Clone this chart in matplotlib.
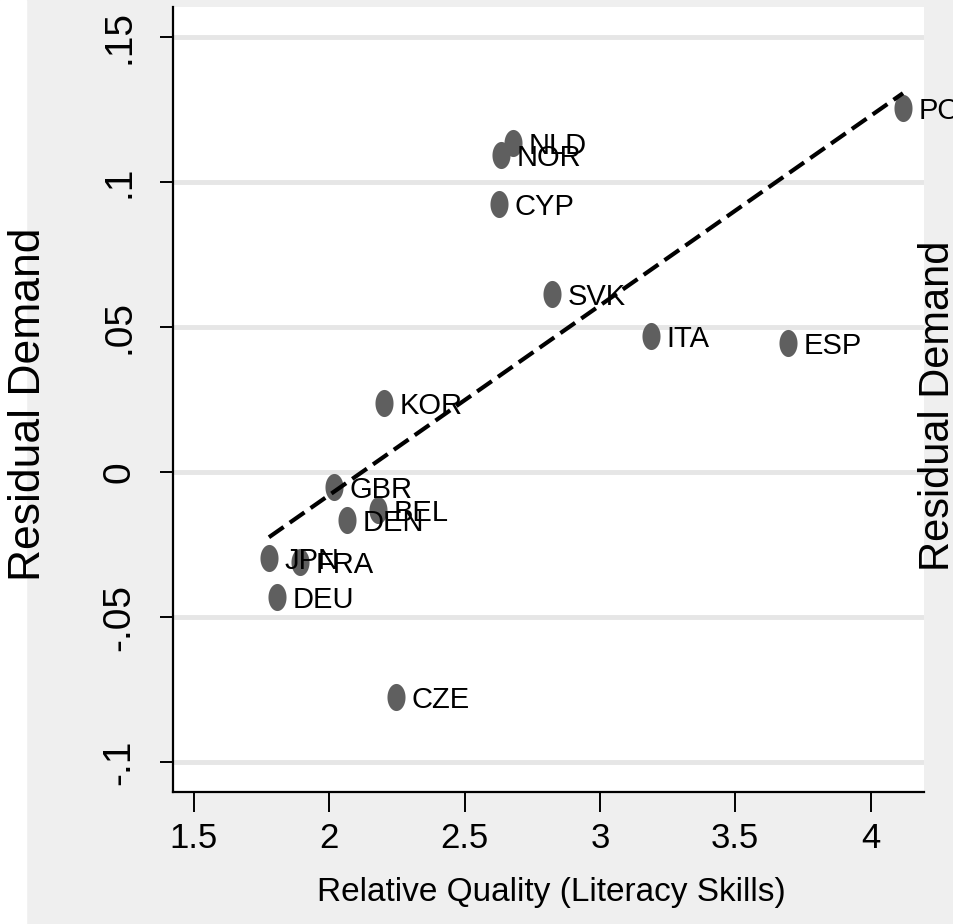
import numpy as np
import matplotlib
matplotlib.use('Agg')
import matplotlib.pyplot as plt
from matplotlib.path import Path
from matplotlib.patches import Rectangle

plt.rcParams['font.family'] = ['Liberation Sans', 'DejaVu Sans']

# data
countries = ['POL', 'NLD', 'NOR', 'CYP', 'SVK', 'ITA', 'ESP', 'KOR',
             'GBR', 'BEL', 'DEN', 'JPN', 'FRA', 'DEU', 'CZE']
quality = [4.120, 2.679, 2.635, 2.627, 2.823, 3.189, 3.695, 2.202,
           2.017, 2.180, 2.065, 1.777, 1.892, 1.807, 2.246]
demand = [0.1255, 0.1134, 0.1093, 0.0924, 0.0614, 0.0469, 0.0445, 0.0238,
          -0.0052, -0.0131, -0.0166, -0.0297, -0.0310, -0.0431, -0.0776]

xticks = [1.5, 2, 2.5, 3, 3.5, 4]
xticklabels = ['1.5', '2', '2.5', '3', '3.5', '4']
yticks = [-0.1, -0.05, 0, 0.05, 0.1, 0.15]
yticklabels = ['-.1', '-.05', '0', '.05', '.1', '.15']

x = np.array(quality)
y = np.array(demand)

fig = plt.figure(figsize=(9.54, 9.24), dpi=100, facecolor='#efefef')
fig.patches.append(Rectangle((0, 0), 26 / 954, 1, transform=fig.transFigure,
                             color='white', zorder=0))
ax = fig.add_axes([173 / 954, 132 / 924, 751 / 954, 785 / 924])
ax.set_facecolor('white')

# stretched-looking dot (taller than wide)
t = np.linspace(0, 2 * np.pi, 60)
ellipse = Path(np.column_stack([np.cos(t), 1.5 * np.sin(t)]), closed=True)

ax.plot(x, y, linestyle='none', marker=ellipse, markersize=19.5,
        color='#5f5f5f', markeredgewidth=0, zorder=3)

for name, xi, yi in zip(countries, x, y):
    ax.annotate(name, (xi, yi), xytext=(11, -2), textcoords='offset points',
                fontsize=21, va='center', ha='left', zorder=4)

# linear fit
b, a = np.polyfit(x, y, 1)
xs = np.array([x.min(), x.max()])
ax.plot(xs, a + b * xs, color='black', lw=3.0, dashes=(4.3, 1.8), zorder=5)

ax.set_xlim(1.4224, 4.1977)
ax.set_ylim(-0.1103, 0.1603)
ax.set_xticks(xticks)
ax.set_xticklabels(xticklabels)
ax.set_yticks(yticks)
ax.set_yticklabels(yticklabels, rotation=90, va='center')

ax.yaxis.grid(True, color='#e6e6e6', lw=3.5)
ax.set_axisbelow(True)

for s in ['top', 'right']:
    ax.spines[s].set_visible(False)
for s in ['left', 'bottom']:
    ax.spines[s].set_linewidth(1.6)

ax.tick_params(axis='x', length=14.4, width=1.4, pad=7, labelsize=25)
ax.tick_params(axis='y', length=9.4, width=1.4, pad=16, labelsize=28)

fig.text(551 / 954, 1 - 893 / 924, 'Relative Quality (Literacy Skills)',
         fontsize=24, ha='center', va='center')
fig.text(28.5 / 954, 1 - 404 / 924, 'Residual Demand', fontsize=32,
         rotation=90, ha='center', va='center')
fig.text(938 / 954, 1 - 406 / 924, 'Residual Demand', fontsize=30,
         rotation=90, ha='center', va='center')

fig.savefig('out.png', dpi=100, facecolor=fig.get_facecolor())
